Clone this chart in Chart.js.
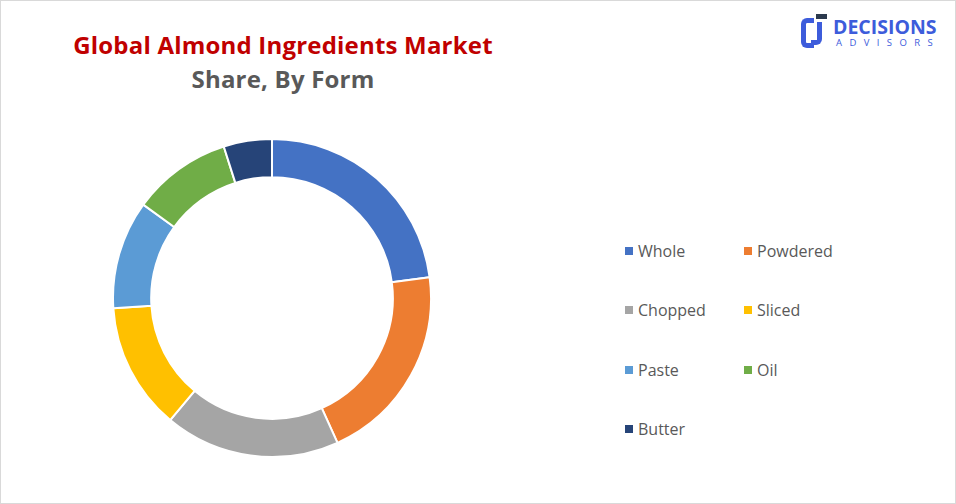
<!DOCTYPE html>
<html>
<head>
<meta charset="utf-8">
<script src="https://cdn.jsdelivr.net/npm/chart.js@4"></script>
<style>
    body { margin: 0; background: #fff; }
    #frame {
        position: relative; width: 954px; height: 502px;
        border: 1px solid #d9d9d9; background: #fff; overflow: hidden;
        font-family: "Open Sans", sans-serif;
    }
    #title {
        position: absolute; left: 0; width: 564px; top: 27px; text-align: center;
        color: #c00000; font-weight: bold; font-size: 24px; letter-spacing: 0.2px;
    }
    #subtitle {
        position: absolute; left: 0; width: 564px; top: 61px; text-align: center;
        color: #595959; font-weight: bold; font-size: 24px; letter-spacing: 0.2px;
    }
    #chartBox { position: absolute; left: 111px; top: 137px; width: 320px; height: 320px; }
    #legend {
        position: absolute; left: 623px; top: 238px;
        display: grid; grid-template-columns: 119px 120px; grid-auto-rows: 59.3px;
    }
    .item { display: flex; align-items: flex-start; color: #595959; font-size: 16px; line-height: 24px; }
    .box { width: 8px; height: 8px; margin: 8px 5px 0 1px; }
    #logo { position: absolute; left: 798px; top: 12px; width: 150px; height: 40px; }
    #logo .icon1 {
        position: absolute; left: 2px; top: 5px; width: 8px; height: 20px;
        border: 5px solid #3d5cdb; border-right: none; border-radius: 6px 0 0 6px;
    }
    #logo .icon2 {
        position: absolute; left: 12px; top: 9px; width: 6px; height: 18px;
        border: 5px solid #3d5cdb; border-left: none; border-top: none; border-radius: 0 0 6px 0;
    }
    #logo .icon3 { position: absolute; left: 17px; top: 1px; width: 11px; height: 5px; background: #2c3a4e; }
    #logo .dec {
        position: absolute; left: 34px; top: 2px; color: #3d5cdb;
        font-weight: bold; font-size: 19.5px; letter-spacing: 0px; line-height: 24px;
    }
    #logo .adv {
        position: absolute; left: 37px; top: 24px; color: #3d5cdb;
        font-size: 9.5px; letter-spacing: 7.4px; line-height: 12px;
    }
</style>
</head>
<body>
<div id="frame">
    <div id="title">Global Almond Ingredients Market</div>
    <div id="subtitle">Share, By Form</div>
    <div id="chartBox"><canvas id="donut"></canvas></div>
    <div id="legend"></div>
    <div id="logo">
        <div class="icon1"></div><div class="icon2"></div><div class="icon3"></div>
        <div class="dec">DECISIONS</div>
        <div class="adv">ADVISORS</div>
    </div>
</div>
<script>
const formLabels = ["Whole", "Powdered", "Chopped", "Sliced", "Paste", "Oil", "Butter"];
const shareValues = [22.9, 20.3, 17.8, 12.9, 11.0, 10.1, 4.9];
const sliceColors = ["#4472c4", "#ed7d31", "#a5a5a5", "#ffc000", "#5b9bd5", "#70ad47", "#264478"];

// legend built from the same arrays
const legendEl = document.getElementById("legend");
formLabels.forEach((name, i) => {
    const item = document.createElement("div");
    item.className = "item";
    item.innerHTML = `<span class="box" style="background:${sliceColors[i]}"></span>${name}`;
    legendEl.appendChild(item);
});

new Chart(document.getElementById("donut"), {
    type: "doughnut",
    data: {
        labels: formLabels,
        datasets: [{
            data: shareValues,
            backgroundColor: sliceColors,
            borderColor: "#ffffff",
            borderWidth: 2
        }]
    },
    options: {
        responsive: true,
        maintainAspectRatio: false,
        animation: false,
        cutout: "76%",
        plugins: {
            legend: { display: false },
            tooltip: { enabled: false }
        }
    }
});
</script>
</body>
</html>
